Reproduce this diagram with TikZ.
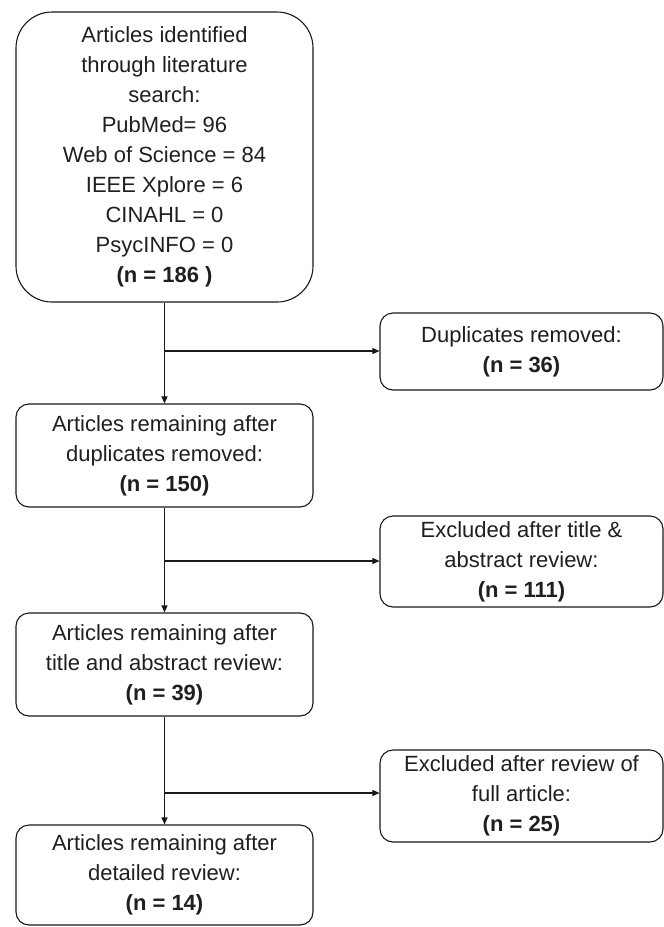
\documentclass[tikz,border=0pt]{standalone}
\usepackage{fontspec}
\setmainfont{Liberation Sans}
\usetikzlibrary{arrows.meta}
\begin{document}
\begin{tikzpicture}[x=1pt,y=-1pt,
  box/.style={draw=black!90,line width=1.1pt,rounded corners=13pt,align=center,inner sep=0pt,
    font=\fontsize{22}{30}\selectfont,text=black!88},
  mainbox/.style={box,minimum width=297pt},
  sidebox/.style={box,minimum width=283pt},
  arr/.style={draw=black!90,line width=1.1pt,-{Triangle[length=7pt,width=6pt]}},
]
\useasboundingbox (0,0) rectangle (664,927);

\node[mainbox,rounded corners=36pt,minimum height=290pt] (t) at (164.5,157)
  {Articles identified\\through literature\\search:\\PubMed= 96\\Web of Science = 84\\IEEE Xplore = 6\\CINAHL = 0\\PsycINFO = 0\\\textbf{(n = 186 )}};

\node[mainbox,minimum height=103pt] (b2) at (164.5,455.5)
  {Articles remaining after\\duplicates removed:\\\textbf{(n = 150)}};

\node[mainbox,minimum height=103pt] (b3) at (164.5,664.5)
  {Articles remaining after\\title and abstract review:\\\textbf{(n = 39)}};

\node[mainbox,minimum height=100pt] (b4) at (164.5,875)
  {Articles remaining after\\detailed review:\\\textbf{(n = 14)}};

\node[sidebox,minimum height=77pt] (d1) at (521.5,351.5)
  {Duplicates removed:\\\textbf{(n = 36)}};

\node[sidebox,minimum height=91pt] (d2) at (521.5,561.5)
  {Excluded after title \&\\abstract review:\\\textbf{(n = 111)}};

\node[sidebox,minimum height=92pt] (d3) at (521.5,796)
  {Excluded after review of\\full article:\\\textbf{(n = 25)}};

\coordinate (c1) at (164.5,351);
\coordinate (c2) at (164.5,561);
\coordinate (c3) at (164.5,793);

\draw[arr] (t.south) -- (b2.north);
\draw[arr] (b2.south) -- (b3.north);
\draw[arr] (b3.south) -- (b4.north);
\draw[arr] (c1) -- (c1 -| d1.west);
\draw[arr] (c2) -- (c2 -| d2.west);
\draw[arr] (c3) -- (c3 -| d3.west);
\end{tikzpicture}
\end{document}
